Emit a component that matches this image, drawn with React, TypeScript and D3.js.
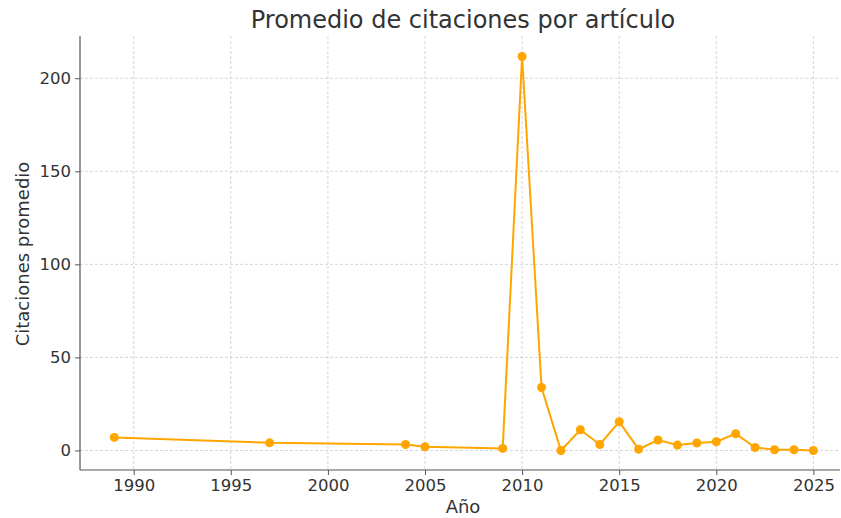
import { useEffect, useRef } from "react";
import * as d3 from "d3";

const years = [1989, 1997, 2004, 2005, 2009, 2010, 2011, 2012, 2013, 2014, 2015, 2016, 2017, 2018, 2019, 2020, 2021, 2022, 2023, 2024, 2025];
const citations = [7.0, 4.1, 3.2, 2.0, 1.1, 211.7, 33.8, 0.0, 11.1, 3.2, 15.4, 0.7, 5.6, 2.9, 4.0, 4.7, 9.0, 1.6, 0.4, 0.4, 0.0];
const xTicks = [1990, 1995, 2000, 2005, 2010, 2015, 2020, 2025];
const yTicks = [0, 50, 100, 150, 200];

export default function App() {
  const ref = useRef<SVGSVGElement>(null);

  useEffect(() => {
    const width = 841;
    const height = 518;
    const margin = { top: 36, right: 1, bottom: 48, left: 80 };
    const innerW = width - margin.left - margin.right;
    const innerH = height - margin.top - margin.bottom;
    const font = "DejaVu Sans, sans-serif";

    const svg = d3.select(ref.current);
    svg.selectAll("*").remove();

    // the right margin of the original is cropped, so the domain is not symmetric
    const x = d3.scaleLinear().domain([1987.234, 2026.37]).range([0, innerW]);
    const y = d3.scaleLinear().domain([-10.5, 222.7]).range([innerH, 0]);

    const g = svg.append("g").attr("transform", `translate(${margin.left},${margin.top})`);

    // grid
    g.append("g").selectAll("line").data(xTicks).enter().append("line")
      .attr("x1", d => x(d)).attr("x2", d => x(d))
      .attr("y1", 0).attr("y2", innerH)
      .attr("stroke", "#cccccc").attr("stroke-width", 0.8).attr("stroke-dasharray", "3,2");
    g.append("g").selectAll("line").data(yTicks).enter().append("line")
      .attr("x1", 0).attr("x2", innerW)
      .attr("y1", d => y(d)).attr("y2", d => y(d))
      .attr("stroke", "#cccccc").attr("stroke-width", 0.8).attr("stroke-dasharray", "3,2");

    // axes
    const xAxis = g.append("g").attr("transform", `translate(0,${innerH})`)
      .call(d3.axisBottom(x).tickValues(xTicks).tickFormat(d3.format("d")).tickSize(5).tickPadding(4));
    const yAxis = g.append("g")
      .call(d3.axisLeft(y).tickValues(yTicks).tickSize(5).tickPadding(4));
    [xAxis, yAxis].forEach(a => {
      a.select(".domain").attr("stroke", "#555555").attr("stroke-width", 1.2);
      a.selectAll(".tick line").attr("stroke", "#555555");
      a.selectAll(".tick text").attr("fill", "#333333").style("font-family", font).style("font-size", "16.5px");
    });
    xAxis.select(".domain").attr("d", `M0,0H${innerW}`);
    yAxis.select(".domain").attr("d", `M0,${innerH}V0`);

    // line
    const line = d3.line<number>().x((_, i) => x(years[i])).y(d => y(d));
    g.append("path").datum(citations)
      .attr("d", line).attr("fill", "none")
      .attr("stroke", "#FFA500").attr("stroke-width", 2);
    g.append("g").selectAll("circle").data(citations).enter().append("circle")
      .attr("cx", (_, i) => x(years[i])).attr("cy", d => y(d))
      .attr("r", 4.5).attr("fill", "#FFA500");

    // labels
    svg.append("text")
      .attr("x", margin.left + innerW / 2 + 3).attr("y", 28)
      .attr("text-anchor", "middle")
      .style("font-family", font).style("font-size", "24px").attr("fill", "#333333")
      .text("Promedio de citaciones por artículo");
    svg.append("text")
      .attr("x", margin.left + innerW / 2 + 3).attr("y", 513)
      .attr("text-anchor", "middle")
      .style("font-family", font).style("font-size", "18px").attr("fill", "#333333")
      .text("Año");
    svg.append("text")
      .attr("transform", `translate(29,${margin.top + innerH / 2 + 1}) rotate(-90)`)
      .attr("text-anchor", "middle")
      .style("font-family", font).style("font-size", "18px").attr("fill", "#333333")
      .text("Citaciones promedio");
  }, []);

  return (
    <svg ref={ref} width={841} height={518}
      style={{ position: "absolute", left: 0, top: 0, background: "#ffffff" }} />
  );
}
